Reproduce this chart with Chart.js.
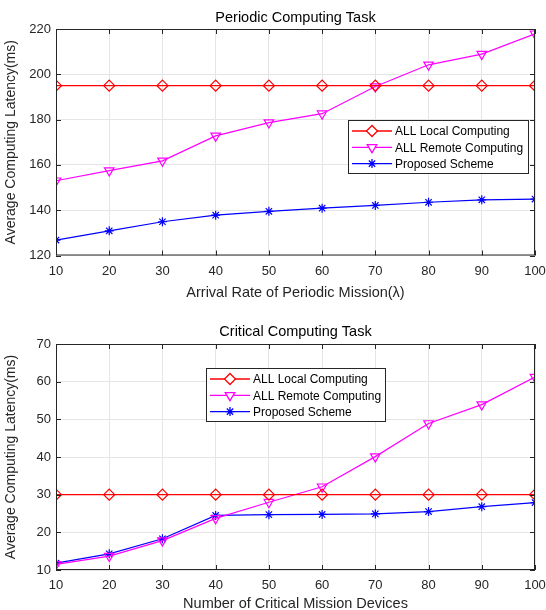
<!DOCTYPE html>
<html>
<head>
<meta charset="utf-8">
<script src="https://cdn.jsdelivr.net/npm/chart.js@4"></script>
<style>
  body { margin: 0; background: #fff; }
  #wrap1 { position: absolute; left: 0; top: 0; width: 546px; height: 300px; }
  #wrap2 { position: absolute; left: 0; top: 300px; width: 546px; height: 310px; }
</style>
</head>
<body>
<div id="wrap1"><canvas id="chartTop"></canvas></div>
<div id="wrap2"><canvas id="chartBottom"></canvas></div>
<script>
const xValues = [10, 20, 30, 40, 50, 60, 70, 80, 90, 100];

// periodic computing task
const periodicLocal = [195, 195, 195, 195, 195, 195, 195, 195, 195, 195];
const periodicRemote = [153, 157.5, 161.8, 172.8, 178.7, 182.6, 194.6, 204.2, 208.9, 217.9];
const periodicProposed = [126.8, 130.9, 134.9, 137.8, 139.5, 140.9, 142.1, 143.5, 144.6, 144.9];

// critical computing task
const criticalLocal = [30, 30, 30, 30, 30, 30, 30, 30, 30, 30];
const criticalRemote = [11.5, 13.7, 17.8, 23.7, 28.0, 32.1, 40.1, 48.9, 53.9, 61.2];
const criticalProposed = [11.8, 14.3, 18.3, 24.5, 24.7, 24.75, 24.9, 25.5, 26.8, 27.9];

const seriesNames = ['ALL Local Computing', 'ALL Remote Computing', 'Proposed Scheme'];
const axisColor = '#262626';
const fontFamily = '"Liberation Sans", Arial, sans-serif';

const styles = [
  { color: '#ff0000', pointStyle: 'rectRot', rotation: 0, radius: 5.5 },
  { color: '#ff00ff', pointStyle: 'triangle', rotation: 180, radius: 5.5 },
  { color: '#0000ff', pointStyle: 'star', rotation: 0, radius: 4.5 }
];

const toPoints = arr => arr.map((v, i) => ({ x: xValues[i], y: v }));

const makeDatasets = (seriesList) => seriesList.map((arr, i) => ({
  label: seriesNames[i],
  data: toPoints(arr),
  borderColor: styles[i].color,
  backgroundColor: 'rgba(0,0,0,0)',
  borderWidth: 1.2,
  pointStyle: styles[i].pointStyle,
  rotation: styles[i].rotation,
  pointRadius: styles[i].radius,
  pointBorderColor: styles[i].color,
  pointBorderWidth: 1.2,
  pointBackgroundColor: 'rgba(0,0,0,0)',
  tension: 0
}));

// matlab-like box, inward ticks, title over plot area and boxed legend
const matlabPlugin = {
  id: 'matlab',
  afterDraw(chart, args, opts) {
    const ctx = chart.ctx;
    const area = chart.chartArea;
    const xs = chart.scales.x, ys = chart.scales.y;
    ctx.save();
    ctx.strokeStyle = axisColor;
    ctx.lineWidth = 1;
    ctx.strokeRect(area.left + 0.5, area.top + 0.5, area.right - area.left - 1, area.bottom - area.top - 1);
    ctx.beginPath();
    xs.ticks.forEach(t => {
      const px = Math.round(xs.getPixelForValue(t.value)) + 0.5;
      ctx.moveTo(px, area.bottom); ctx.lineTo(px, area.bottom - 5);
      ctx.moveTo(px, area.top); ctx.lineTo(px, area.top + 5);
    });
    ys.ticks.forEach(t => {
      const py = Math.round(ys.getPixelForValue(t.value)) + 0.5;
      ctx.moveTo(area.left, py); ctx.lineTo(area.left + 5, py);
      ctx.moveTo(area.right, py); ctx.lineTo(area.right - 5, py);
    });
    ctx.stroke();

    // title
    ctx.fillStyle = '#000';
    ctx.font = '14.5px ' + fontFamily;
    ctx.textAlign = 'center';
    ctx.textBaseline = 'middle';
    ctx.fillText(opts.title, (area.left + area.right) / 2, opts.titleY);

    // legend
    const lx = opts.x, ly = opts.y, lw = opts.w, lh = opts.h;
    ctx.fillStyle = '#fff';
    ctx.fillRect(lx, ly, lw, lh);
    ctx.strokeStyle = axisColor;
    ctx.strokeRect(lx + 0.5, ly + 0.5, lw, lh);
    ctx.font = '12px ' + fontFamily;
    ctx.textAlign = 'left';
    chart.data.datasets.forEach((ds, i) => {
      const cy = ly + 11 + i * 16.3;
      ctx.strokeStyle = ds.borderColor;
      ctx.lineWidth = 1.3;
      ctx.beginPath();
      ctx.moveTo(lx + 4, cy); ctx.lineTo(lx + 44, cy);
      ctx.stroke();
      ctx.fillStyle = '#fff';
      Chart.helpers.drawPoint(ctx, {
        pointStyle: ds.pointStyle, rotation: ds.rotation,
        radius: ds.pointRadius, borderWidth: 1.2
      }, lx + 24, cy);
      ctx.fillStyle = '#000';
      ctx.fillText(ds.label, lx + 47, cy + 1);
    });
    ctx.restore();
  }
};

const makeChart = (canvasId, title, xTitle, seriesList, yMin, yMax, yStep, cfg) => {
  new Chart(document.getElementById(canvasId), {
    type: 'line',
    data: { datasets: makeDatasets(seriesList) },
    plugins: [matlabPlugin],
    options: {
      responsive: true,
      maintainAspectRatio: false,
      animation: false,
      layout: { padding: { left: 0, right: 11, top: cfg.plotTop, bottom: 0 } },
      plugins: {
        legend: { display: false },
        tooltip: { enabled: false },
        title: { display: false },
        matlab: Object.assign({ title: title, titleY: cfg.titleY }, cfg.legend)
      },
      scales: {
        x: {
          type: 'linear',
          min: 10, max: 100,
          ticks: { stepSize: 10, color: axisColor, font: { family: fontFamily, size: 13 }, padding: cfg.xTickPad },
          grid: { color: '#e5e5e5', drawTicks: false, lineWidth: 1 },
          border: { display: false },
          title: { display: true, text: xTitle, color: axisColor, font: { family: fontFamily, size: 14.5 }, padding: { top: 1, bottom: cfg.xTitleBottom } },
          afterFit: s => { s.height = cfg.xHeight; s.paddingLeft = 0; s.paddingRight = 0; }
        },
        y: {
          min: yMin, max: yMax,
          ticks: { stepSize: yStep, color: axisColor, font: { family: fontFamily, size: 13 }, padding: 5 },
          grid: { color: '#e5e5e5', drawTicks: false, lineWidth: 1 },
          border: { display: false },
          title: { display: true, text: 'Average Computing Latency(ms)', color: axisColor, font: { family: fontFamily, size: 14 }, padding: { top: 3, bottom: 1 } },
          afterFit: s => { s.width = 56; s.paddingTop = 0; s.paddingBottom = 0; }
        }
      }
    }
  });
};

makeChart('chartTop', 'Periodic Computing Task', 'Arrival Rate of Periodic Mission(\u03bb)',
  [periodicLocal, periodicRemote, periodicProposed], 120, 220, 20,
  { plotTop: 29, titleY: 18, xHeight: 44.5, xTickPad: 8, xTitleBottom: -2, legend: { x: 348, y: 120, w: 180, h: 53 } });

makeChart('chartBottom', 'Critical Computing Task', 'Number of Critical Mission Devices',
  [criticalLocal, criticalRemote, criticalProposed], 10, 70, 10,
  { plotTop: 44, titleY: 32, xHeight: 40, xTickPad: 8, xTitleBottom: -3, legend: { x: 206, y: 68, w: 179, h: 53 } });
</script>
</body>
</html>
